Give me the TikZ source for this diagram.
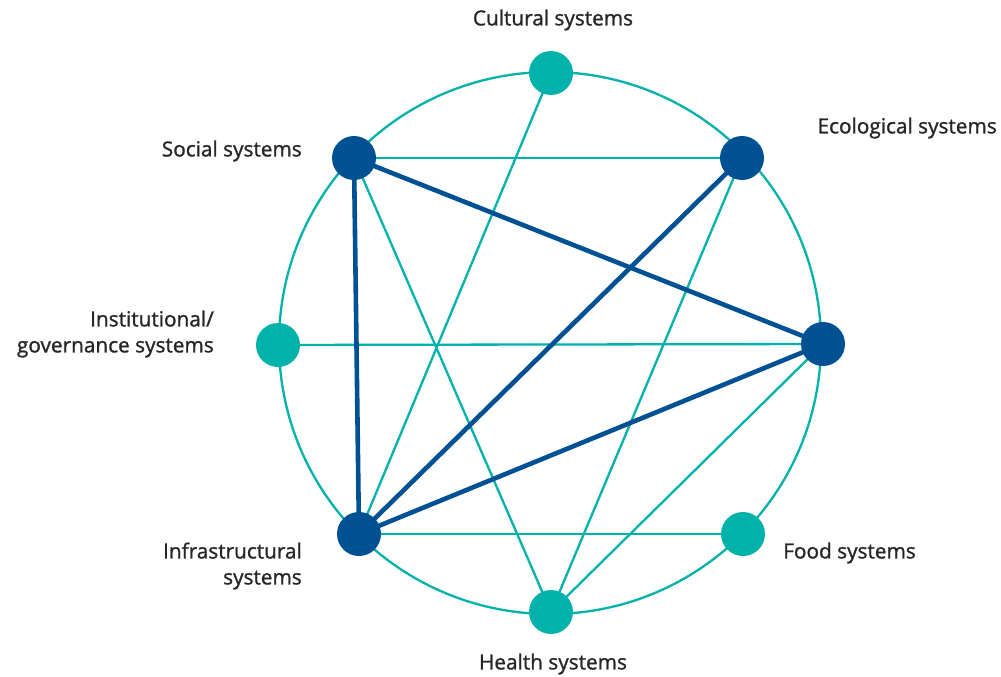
\documentclass[tikz,border=0pt]{standalone}
\usepackage{fontspec}
\setmainfont{Open Sans}
\newfontfamily\labfont{Open Sans}[FakeBold=1.2]
\definecolor{teal}{HTML}{00B2A9}
\definecolor{navy}{HTML}{005193}
\definecolor{txt}{HTML}{262626}
\begin{document}
\begin{tikzpicture}[x=1pt,y=-1pt,
  thin/.style={teal,line width=2.3pt},
  thick/.style={navy,line width=4.6pt},
  tdot/.style={circle,fill=teal,minimum size=44pt,inner sep=0pt},
  ndot/.style={circle,fill=navy,minimum size=44pt,inner sep=0pt},
  lab/.style={text=txt,font=\labfont\fontsize{20.8pt}{26pt}\selectfont,inner sep=0pt}]
\useasboundingbox (0,0) rectangle (1001,677);
\coordinate (c) at (550,343);
\draw[thin] (c) circle (271pt);
\coordinate (cul) at (551,73);
\coordinate (eco) at (742,158);
\coordinate (rig) at (823,344);
\coordinate (foo) at (743,534);
\coordinate (hea) at (551,612);
\coordinate (inf) at (359,534);
\coordinate (ins) at (278,345);
\coordinate (soc) at (354,158);
% thin links
\draw[thin] (soc) -- (eco);
\draw[thin] (cul) -- (inf);
\draw[thin] (soc) -- (hea);
\draw[thin] (ins) -- (rig);
\draw[thin] (eco) -- (hea);
\draw[thin] (rig) -- (hea);
\draw[thin] (inf) -- (foo);
% thick links
\draw[thick] (soc) -- (rig);
\draw[thick] (soc) -- (inf);
\draw[thick] (eco) -- (inf);
\draw[thick] (rig) -- (inf);
% nodes
\node[tdot] (ncul) at (cul) {};
\node[ndot] (neco) at (eco) {};
\node[ndot] (nrig) at (rig) {};
\node[tdot] (nfoo) at (foo) {};
\node[tdot] (nhea) at (hea) {};
\node[ndot] (ninf) at (inf) {};
\node[tdot] (nins) at (ins) {};
\node[ndot] (nsoc) at (soc) {};
% labels
\node[lab] (lcul) at (553,20) {Cultural systems};
\node[lab,anchor=east] (leco) at (997,128) {Ecological systems};
\node[lab,anchor=east] (lsoc) at (302,151) {Social systems};
\node[lab,anchor=east,align=right] (lins) at (214,334) {Institutional/\\governance systems};
\node[lab,anchor=west] (lfoo) at (783,553) {Food systems};
\node[lab] (lhea) at (553,664) {Health systems};
\node[lab,anchor=east,align=right] (linf) at (302,566) {Infrastructural\\systems};
\end{tikzpicture}
\end{document}
